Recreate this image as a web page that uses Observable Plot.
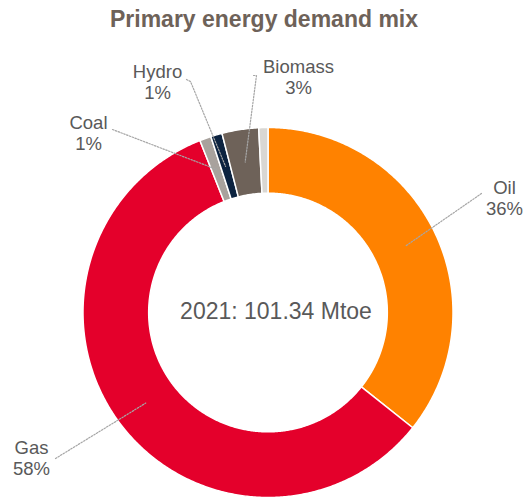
<!DOCTYPE html>
<html><head><meta charset="utf-8">
<script src="https://cdn.jsdelivr.net/npm/d3@7"></script>
<script src="https://cdn.jsdelivr.net/npm/@observablehq/plot@0.6"></script>
<style>
body{margin:0;background:#fff;font-family:"Liberation Sans",Arial,sans-serif;}
#title{height:40px;box-sizing:border-box;padding-top:8px;padding-left:5px;text-align:center;font-size:23px;line-height:23px;font-weight:bold;color:#6E6259;}
#chart svg{display:block;}
</style></head><body>
<div id="title">Primary energy demand mix</div>
<div id="chart"></div>
<script>
// ---- data ----
const sources = ["Oil", "Gas", "Coal", "Hydro", "Biomass", "Other"];
const shares = [35.7, 58.3, 1.0, 1.0, 3.2, 0.8];
const labelled = [true, true, true, true, true, false];
const colors = ["#FF8200", "#E4002B", "#A8A29D", "#0C2340", "#6E6259", "#D9D7D3"];
const totalLabel = "2021: 101.34 Mtoe";

// ---- layout ----
const W = 523, H = 460;
const R = 185;          // outer radius (px)
const CX = 267.5, CY = 272; // ring centre inside the svg (px)
const INNER = 0.645;    // inner radius as a fraction of outer
const TOP = 40;         // height of the title block above svg
// label block centres & leader end points, in page pixels
const labelPos = {Oil: [504, 197.6], Gas: [31, 457.6], Coal: [88, 132.6], Hydro: [157, 81.6], Biomass: [298, 76.6]};
const leaderEnds = {Oil: [[481, 193]], Gas: [[55, 458]], Coal: [[112, 129]], Hydro: [[186, 79], [190, 81]], Biomass: [[253, 75], [256, 75]]};
const toU = ([px, py]) => [(px - CX) / R, (CY + TOP - py) / R];

// ---- geometry ----
let acc = 0;
const total = d3.sum(shares);
const slices = sources.map((s, i) => {
  const a0 = acc / total * 2 * Math.PI; acc += shares[i];
  const a1 = acc / total * 2 * Math.PI;
  return {source: s, value: shares[i], a0, a1, labelled: labelled[i]};
});
const ring = [];
for (const sl of slices) {
  const n = Math.max(2, Math.ceil((sl.a1 - sl.a0) / (Math.PI / 360)));
  for (let k = 0; k <= n; k++) {
    const a = sl.a0 + (sl.a1 - sl.a0) * k / n;
    ring.push({source: sl.source, x: Math.sin(a), y: Math.cos(a)});
  }
  for (let k = n; k >= 0; k--) {
    const a = sl.a0 + (sl.a1 - sl.a0) * k / n;
    ring.push({source: sl.source, x: INNER * Math.sin(a), y: INNER * Math.cos(a)});
  }
}
const mid = (1 + INNER) / 2;
const leaders = [];
const labels = [];
for (const sl of slices.filter(d => d.labelled)) {
  const am = (sl.a0 + sl.a1) / 2;
  for (const p of leaderEnds[sl.source]) { const [x, y] = toU(p); leaders.push({source: sl.source, x, y}); }
  leaders.push({source: sl.source, x: mid * Math.sin(am), y: mid * Math.cos(am)});
  const [lx, ly] = toU(labelPos[sl.source]);
  labels.push({x: lx, y: ly, text: `${sl.source}\n${Math.round(sl.value)}%`});
}

const chart = Plot.plot({
  width: W, height: H, margin: 0,
  x: {domain: [-CX / R, (W - CX) / R], axis: null},
  y: {domain: [-(H - CY) / R, CY / R], axis: null},
  color: {domain: sources, range: colors},
  style: {fontFamily: "Liberation Sans, Arial, sans-serif", background: "white"},
  marks: [
    Plot.line(ring, {x: "x", y: "y", z: "source", fill: "source", stroke: "white", strokeWidth: 1.5, curve: "linear-closed"}),
    Plot.line(leaders, {x: "x", y: "y", z: "source", stroke: "#A6A6A6", strokeWidth: 1.2, strokeDasharray: "1.5 1.5"}),
    Plot.text(labels, {x: "x", y: "y", text: "text", fontSize: 18.5, lineHeight: 1.12, fill: "#595959"}),
    Plot.text([totalLabel], {x: () => 0, y: () => 0, text: d => d, dx: 8, dy: -1, fontSize: 23, fill: "#595959"})
  ]
});
document.getElementById("chart").appendChild(chart);
</script>
</body></html>
